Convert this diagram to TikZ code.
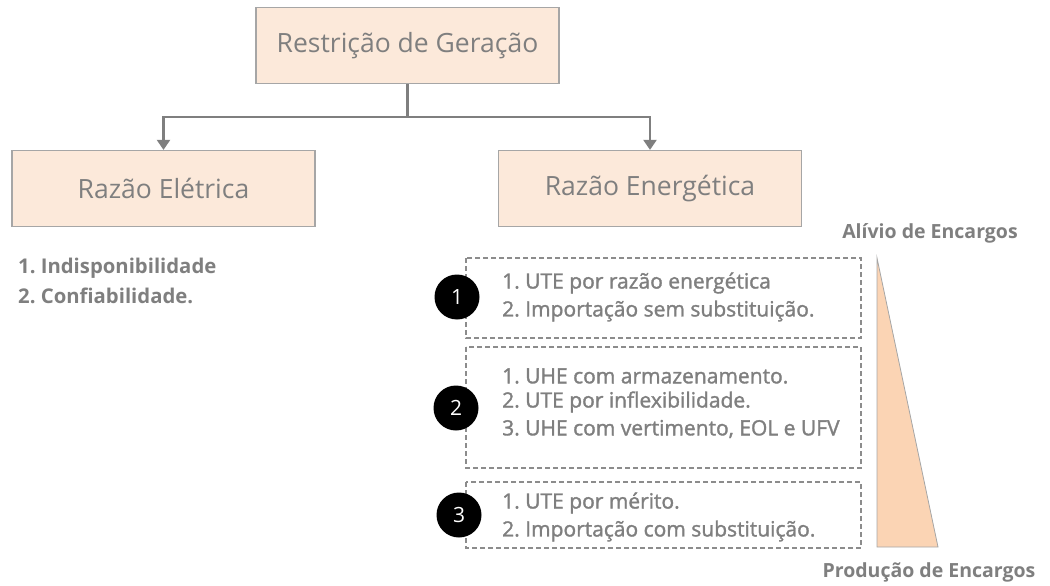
\documentclass[tikz,border=0pt]{standalone}
\usepackage{fontspec}
\setmainfont{Open Sans}
\newfontfamily\listfont{Open Sans}
\newfontfamily\listfontmed[FakeBold=1.5]{Open Sans}
\usetikzlibrary{arrows.meta}
\definecolor{peach}{HTML}{FCE9DA}
\definecolor{bordergray}{HTML}{A6A6A6}
\definecolor{txtgray}{HTML}{7F7F7F}
\definecolor{linegray}{HTML}{7F7F7F}
\definecolor{wedge}{HTML}{FBD4B4}
\definecolor{dashgray}{HTML}{8C8C8C}
\tikzset{
  x=1pt, y=-1pt,
  titlebox/.style={draw=bordergray, line width=1.2pt, fill=peach, minimum width=303pt, minimum height=76pt, font=\fontsize{26.5}{26.5}\selectfont, text=txtgray, inner sep=0pt},
  conn/.style={draw=linegray, line width=2.2pt, -{Triangle[length=10pt,width=13pt]}},
  groupbox/.style={draw=dashgray, line width=1.3pt, dash pattern=on 5pt off 3pt},
  numdot/.style={circle, fill=black, minimum size=45pt, inner sep=0pt, text=white, font=\fontsize{21}{21}\selectfont},
  listtxt/.style={anchor=west, text=txtgray, font=\listfontmed\fontsize{21}{21}\selectfont, inner sep=0pt},
  leftlist/.style={anchor=west, text=txtgray, font=\listfont\bfseries\fontsize{20.3}{20.3}\selectfont, inner sep=0pt},
  sidelbl/.style={text=txtgray, font=\listfont\bfseries\fontsize{19.5}{19.5}\selectfont, inner sep=0pt}
}
\begin{document}
\begin{tikzpicture}
\useasboundingbox (0,0) rectangle (1050,586);
\node[titlebox] (top) at (407.5,45.5) {Restrição de Geração};
\node[titlebox] (ele) at (163.5,188.5) {Razão Elétrica};
\node[titlebox] (ene) at (650,188.5) {Razão Energética};
\coordinate (split) at (407.5,117);
\draw[conn] (top.south) -- (split) -| (ele.north);
\draw[conn] (split) -| (ene.north);

\node[leftlist] (e1) at (18,268) {1.\ Indisponibilidade};
\node[leftlist] (e2) at (18,296) {2.\ Confiabilidade.};

% groups
\draw[groupbox] (466,258) rectangle (861,338);
\draw[groupbox] (466,347) rectangle (861,468);
\draw[groupbox] (466,482) rectangle (861,548);

\node[listtxt] (g11) at (502,283) {1.\ UTE por razão energética};
\node[listtxt] (g12) at (502,311) {2.\ Importação sem substituição.};
\node[listtxt] (g21) at (502,376) {1.\ UHE com armazenamento.};
\node[listtxt] (g22) at (502,402) {2.\ UTE por inflexibilidade.};
\node[listtxt] (g23) at (502,429) {3.\ UHE com vertimento, EOL e UFV};
\node[listtxt] (g31) at (502,503) {1.\ UTE por mérito.};
\node[listtxt] (g32) at (502,531) {2.\ Importação com substituição.};

\node[numdot] (n1) at (457,297) {1};
\node[numdot] (n2) at (456,408) {2};
\node[numdot] (n3) at (459,515) {3};

% wedge
\filldraw[fill=wedge, draw=bordergray, line width=0.8pt] (877,258) -- (938,547) -- (877,547) -- cycle;
\node[sidelbl] (al) at (930,233) {Alívio de Encargos};
\node[sidelbl] (pr) at (929,572) {Produção de Encargos};
\end{tikzpicture}
\end{document}
